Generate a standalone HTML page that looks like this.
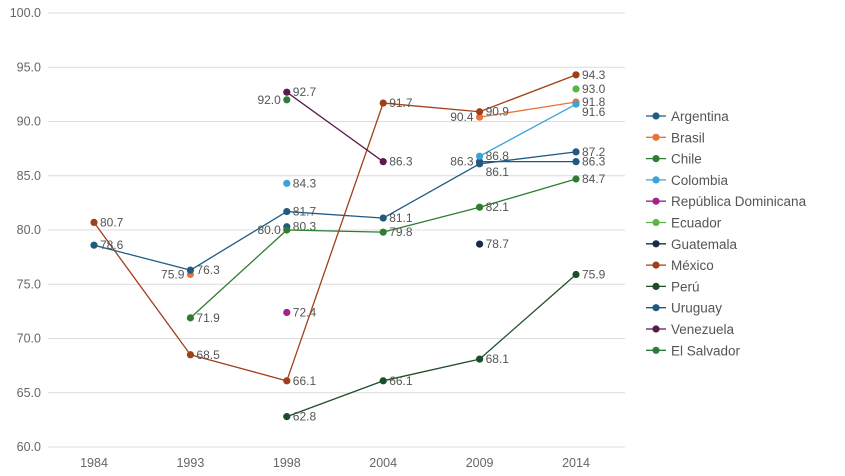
<!DOCTYPE html>
<html><head><meta charset="utf-8"><style>
body{margin:0;background:#fff;font-family:"Liberation Sans",sans-serif}
svg text{font-family:"Liberation Sans",sans-serif}
</style></head><body>
<svg id="c" width="845" height="471"></svg>
<script>
const categories=["1984","1993","1998","2004","2009","2014"];
const yTicks=[60,65,70,75,80,85,90,95,100];
const seriesNames=["Argentina","Brasil","Chile","Colombia","República Dominicana","Ecuador","Guatemala","México","Perú","Uruguay","Venezuela","El Salvador"];
const seriesColors=["#1f5a82","#e8743b","#2e7d32","#3ba3d8","#a0228a","#5bb544","#1a2b4a","#a0401a","#1e4d2b","#1f5a82","#5a1a4a","#2f7d3a"];
const argentina=[null,null,80.3,null,86.3,86.3];
const brasil=[null,75.9,null,null,90.4,91.8];
const chile=[null,71.9,80.0,79.8,82.1,84.7];
const colombia=[null,null,84.3,null,86.8,91.6];
const repDom=[null,null,72.4,null,null,null];
const ecuador=[null,null,null,null,null,93.0];
const guatemala=[null,null,null,null,78.7,null];
const mexico=[80.7,68.5,66.1,91.7,90.9,94.3];
const peru=[null,null,62.8,66.1,68.1,75.9];
const uruguay=[78.6,76.3,81.7,81.1,86.1,87.2];
const venezuela=[null,null,92.7,86.3,null,null];
const elSalvador=[null,null,92.0,null,null,null];
const seriesValues=[argentina,brasil,chile,colombia,repDom,ecuador,guatemala,mexico,peru,uruguay,venezuela,elSalvador];
// label placement: left side labels
const leftLabels={"0-4":1,"1-1":1,"2-2":1,"11-2":1,"1-4":1};
const belowLabels={"9-4":1,"3-5":1};
const NS="http://www.w3.org/2000/svg";
const svg=document.getElementById("c");
function x(i){return 94+i*96.4;}
function y(v){return 447-(v-60)*(434/40);}
function el(t,a,p){const e=document.createElementNS(NS,t);for(const k in a)e.setAttribute(k,a[k]);(p||svg).appendChild(e);return e;}
yTicks.forEach(v=>{
  const g=el("line",{x1:48,x2:625,y1:y(v),y2:y(v),stroke:"#dcdcdc","stroke-width":1});
  
  
  const t=el("text",{x:41,y:y(v)+4,"text-anchor":"end","font-size":12.5,fill:"#666"});
  t.textContent=v.toFixed(1);
  
  
});
categories.forEach((c,i)=>{
  const t=el("text",{x:x(i),y:467,"text-anchor":"middle","font-size":12.5,fill:"#666"});
  t.textContent=c;
  
  
});
seriesValues.forEach((vals,s)=>{
  const col=seriesColors[s];
  for(let i=0;i<vals.length-1;i++){
    if(vals[i]!=null&&vals[i+1]!=null){
      const l=el("line",{x1:x(i),y1:y(vals[i]),x2:x(i+1),y2:y(vals[i+1]),stroke:col,"stroke-width":1.3});
      
      
    }
  }
  vals.forEach((v,i)=>{
    if(v==null)return;
    const p=el("circle",{cx:x(i),cy:y(v),r:3.6,fill:col});
    
    
    const key=s+"-"+i;
    const left=leftLabels[key];
    const dy=belowLabels[key]?12:4;
    const t=el("text",{x:left?x(i)-6:x(i)+6,y:y(v)+dy,"text-anchor":left?"end":"start","font-size":12,fill:"#555"});
    t.textContent=v.toFixed(1);
    
    
  });
});
seriesNames.forEach((n,s)=>{
  const yy=116+s*21.3;
  const l=el("line",{x1:646,x2:666,y1:yy,y2:yy,stroke:seriesColors[s],"stroke-width":1.3});
  
  
  const c=el("circle",{cx:656,cy:yy,r:3.6,fill:seriesColors[s]});
  
  
  const t=el("text",{x:671,y:yy+5,"font-size":13.5,fill:"#555"});
  t.textContent=n;
  
  
});
</script>
</body></html>
